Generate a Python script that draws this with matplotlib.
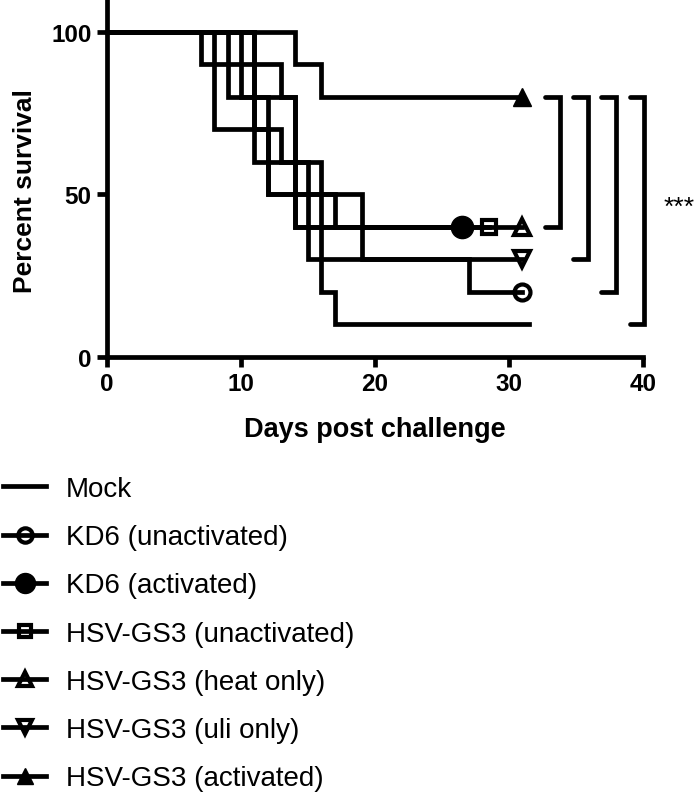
import matplotlib
matplotlib.use('Agg')
import matplotlib.pyplot as plt

plt.rcParams['font.family'] = ['Liberation Sans', 'DejaVu Sans']

# Kaplan-Meier steps (day, percent survival)
mock_days = [0, 8, 13, 16, 17, 31.5]
mock_surv = [100, 70, 60, 20, 10, 10]
kd6_unact_days = [0, 11, 12, 19, 27, 31]
kd6_unact_surv = [100, 70, 50, 30, 20, 20]
kd6_act_days = [0, 7, 13, 14, 26.5]
kd6_act_surv = [100, 90, 80, 40, 40]
gs3_unact_days = [0, 9, 12, 17, 28.5]
gs3_unact_surv = [100, 80, 50, 40, 40]
gs3_heat_days = [0, 10, 14, 31]
gs3_heat_surv = [100, 80, 40, 40]
gs3_uli_days = [0, 11, 15, 31]
gs3_uli_surv = [100, 60, 30, 30]
gs3_act_days = [0, 14, 16, 31]
gs3_act_surv = [100, 90, 80, 80]

labels = ['Mock', 'KD6 (unactivated)', 'KD6 (activated)', 'HSV-GS3 (unactivated)',
          'HSV-GS3 (heat only)', 'HSV-GS3 (uli only)', 'HSV-GS3 (activated)']

# significance brackets: top at 80 %, bottoms at the compared groups
bracket_top = 80
bracket_bottoms = [40, 30, 20, 10]
bracket_x = [33.8, 35.9, 38.0, 40.1]

LW = 3.4
fig = plt.figure(figsize=(7, 8.04), dpi=100)
ax = fig.add_axes([107 / 700, 1 - 358 / 804, 536 / 700, 358 / 804])

series = [
    (mock_days, mock_surv, dict(marker='None')),
    (kd6_unact_days, kd6_unact_surv, dict(marker='o', ms=11.5, mfc='none', mew=3)),
    (kd6_act_days, kd6_act_surv, dict(marker='o', ms=16, mfc='black', mew=1)),
    (gs3_unact_days, gs3_unact_surv, dict(marker='s', ms=10, mfc='none', mew=3)),
    (gs3_heat_days, gs3_heat_surv, dict(marker='^', ms=11.5, mfc='none', mew=3)),
    (gs3_uli_days, gs3_uli_surv, dict(marker='v', ms=11.5, mfc='none', mew=3)),
    (gs3_act_days, gs3_act_surv, dict(marker='^', ms=13.5, mfc='black', mew=1)),
]

handles = []
for (d, s, style), lab in zip(series, labels):
    ln, = ax.plot(d, s, drawstyle='steps-post', color='black', lw=LW,
                  mec='black', markevery=[-1], label=lab,
                  solid_joinstyle='miter', clip_on=False, **style)
    handles.append(ln)

for x, yb in zip(bracket_x, bracket_bottoms):
    ax.plot([x - 1.1, x, x, x - 1.1], [bracket_top, bracket_top, yb, yb],
            color='black', lw=LW, solid_capstyle='round',
            solid_joinstyle='miter', clip_on=False)
ax.text(42.7, 46, '***', fontsize=19, ha='center', va='center')

ax.set_xlim(0, 40)
ax.set_ylim(0, 110)
ax.set_xticks([0, 10, 20, 30, 40])
ax.set_yticks([0, 50, 100])
for side in ['top', 'right']:
    ax.spines[side].set_visible(False)
for side in ['left', 'bottom']:
    ax.spines[side].set_linewidth(LW)
ax.tick_params(length=7, width=LW, pad=4, labelsize=17.5)
for lbl in ax.get_xticklabels() + ax.get_yticklabels():
    lbl.set_fontweight('bold')

ax.set_xlabel('Days post challenge', fontsize=19.5, fontweight='bold')
ax.set_ylabel('Percent survival', fontsize=19, fontweight='bold')
ax.xaxis.set_label_coords(0.5, -0.165)
ax.yaxis.set_label_coords(-0.13, 0.465)

fig.legend(handles=handles, loc='upper left', bbox_to_anchor=(3 / 700, 1 - 477 / 804),
           frameon=False, fontsize=20, borderpad=0, borderaxespad=0,
           handlelength=1.55, handletextpad=0.7, labelspacing=0.8,
           markerscale=0.9)

fig.savefig('out.png', dpi=100)
